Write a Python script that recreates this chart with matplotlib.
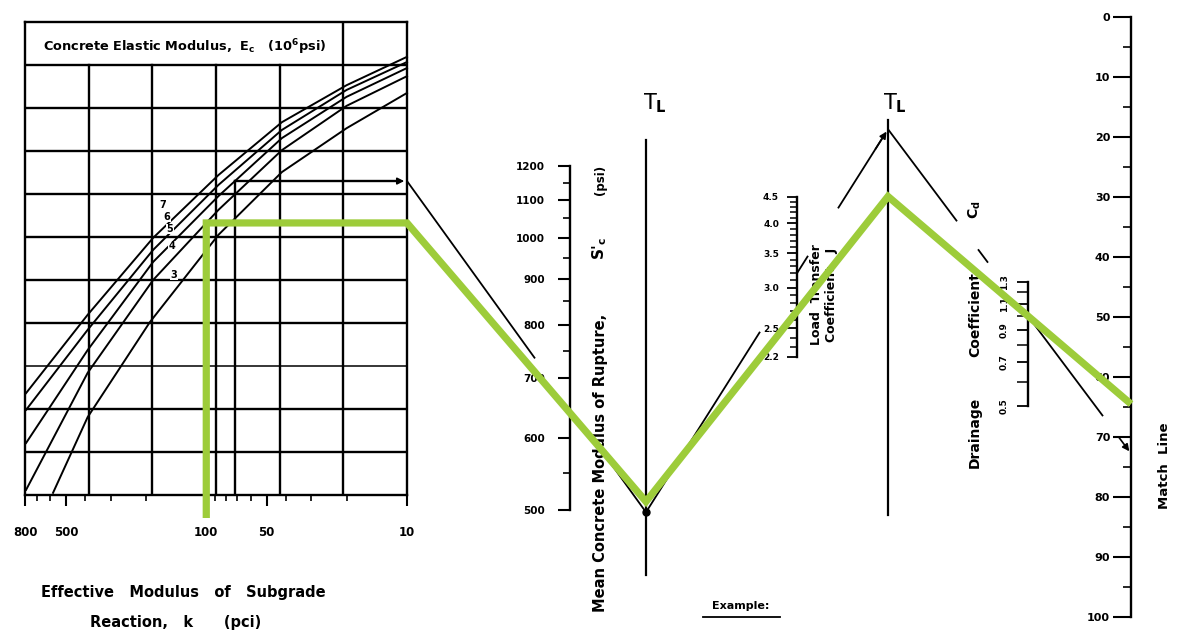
import numpy as np
import matplotlib
matplotlib.use("Agg")
import matplotlib.pyplot as plt
from matplotlib.ticker import FixedLocator, FixedFormatter, NullFormatter
from matplotlib.transforms import blended_transform_factory

plt.rcParams['font.family'] = ['DejaVu Sans']
plt.rcParams['font.weight'] = 'bold'
plt.rcParams['mathtext.fontset'] = 'dejavusans'
plt.rcParams['mathtext.default'] = 'bf'

# ---------------- data ----------------
k_major = [800, 500, 100, 50, 10]
k_major_labels = ["800", "500", "100", "50", "10"]
k_minor = [700, 600, 400, 300, 200, 90, 80, 70, 60, 40, 30, 20]

ec_labels = ["7", "6", "5", "4", "3"]
# curves of constant Ec (k in pci, height in grid-row units)
ec7_k = [790, 390, 184, 87, 42, 20, 10]
ec7_y = [2.37, 4.19, 5.98, 7.44, 8.67, 9.53, 10.19]
ec6_k = [790, 390, 184, 87, 42, 20, 10]
ec6_y = [1.98, 3.84, 5.70, 7.21, 8.49, 9.42, 10.07]
ec5_k = [790, 390, 184, 87, 42, 20, 10]
ec5_y = [1.21, 3.37, 5.42, 6.95, 8.30, 9.26, 9.93]
ec4_k = [790, 390, 184, 87, 42, 20, 10]
ec4_y = [0.12, 2.84, 5.00, 6.63, 8.02, 9.05, 9.74]
ec3_k = [580, 390, 191, 87, 42, 20, 10]
ec3_y = [0.05, 1.81, 4.02, 6.05, 7.51, 8.53, 9.35]

sc_major = [500, 600, 700, 800, 900, 1000, 1100, 1200]
sc_labels = ["500", "600", "700", "800", "900", "1000", "1100", "1200"]
sc_minor = [550, 650, 750, 850, 950, 1050, 1150]

j_major = [2.2, 2.5, 3.0, 3.5, 4.0, 4.5]
j_labels = ["2.2", "2.5", "3.0", "3.5", "4.0", "4.5"]
j_minor = [2.3, 2.4, 2.6, 2.7, 2.8, 2.9, 3.1, 3.2, 3.3, 3.4, 3.6, 3.7, 3.8,
           3.9, 4.1, 4.2, 4.3, 4.4]

cd_major = [0.5, 0.7, 0.9, 1.1, 1.3]
cd_labels = ["0.5", "0.7", "0.9", "1.1", "1.3"]
cd_minor = [0.6, 0.8, 1.0, 1.2]

match_major = [0, 10, 20, 30, 40, 50, 60, 70, 80, 90, 100]
match_labels = ["0", "10", "20", "30", "40", "50", "60", "70", "80", "90", "100"]
match_minor = [5, 15, 25, 35, 45, 55, 65, 75, 85, 95]

# worked examples: k, Ec, S'c, J, Cd
black_example = [72, 5, 650, 3.2, 1.0]
green_example = [100, 4, 640, 2.7, 1.0]

# ---------------- layout ----------------
W, H = 1177, 630
fig = plt.figure(figsize=(W / 100, H / 100), dpi=100)
fig.patch.set_facecolor("white")


def px_axes(x0, y0, x1, y1):
    return fig.add_axes([x0 / W, 1 - y1 / H, (x1 - x0) / W, (y1 - y0) / H])


ax0 = fig.add_axes([0, 0, 1, 1])
ax0.set_xlim(0, W)
ax0.set_ylim(H, 0)
ax0.axis("off")
ax0.set_zorder(5)
ax0.patch.set_visible(False)

LW = 1.7
# ---- left panel ----
axk = px_axes(25, 22, 407, 495)
axk.set_xscale("log")
axk.set_xlim(800, 10)
axk.set_ylim(0, 11)
axk.patch.set_visible(False)
for s in axk.spines.values():
    s.set_linewidth(LW)
axk.yaxis.set_visible(False)
axk.xaxis.set_major_locator(FixedLocator(k_major))
axk.xaxis.set_major_formatter(FixedFormatter(k_major_labels))
axk.xaxis.set_minor_locator(FixedLocator(k_minor))
axk.xaxis.set_minor_formatter(NullFormatter())
axk.tick_params(axis="x", which="major", direction="out", length=8, width=1.5,
                pad=14, labelsize=8.5)
axk.tick_params(axis="x", which="minor", direction="out", length=4, width=1.2)

tr = blended_transform_factory(axk.transAxes, axk.transData)
for i in range(1, 6):
    top = 11 if i == 5 else 10
    axk.plot([i / 6, i / 6], [0, top], color="black", lw=LW, transform=tr)
for j in range(1, 11):
    axk.plot([0, 1], [j, j], color="black", lw=LW if j != 3 else 1.1,
             transform=tr)

curves = [(ec7_k, ec7_y), (ec6_k, ec6_y), (ec5_k, ec5_y), (ec4_k, ec4_y),
          (ec3_k, ec3_y)]
for ck, cy in curves:
    axk.plot(ck, cy, color="black", lw=1.4, clip_on=False)

label_pos = [(163, 205), (167, 217), (170, 229), (172, 246), (174, 275)]
for lab, (lx, ly) in zip(ec_labels, label_pos):
    ax0.text(lx, ly, lab, fontsize=7, ha="center", va="center",
             bbox=dict(facecolor="white", edgecolor="none", pad=0.2))

ax0.text(43, 47, r"Concrete Elastic Modulus,  E$_c$   (10$^6$psi)",
         fontsize=9.3, ha="left", va="center")
ax0.text(183, 593, "Effective   Modulus   of   Subgrade", fontsize=10.5,
         ha="center", va="center")
ax0.text(176, 622, "Reaction,   k      (pci)", fontsize=10.5, ha="center",
         va="center")


def curve_level(ck, cy, k):
    return np.interp(np.log10(k), np.log10(ck[::-1]), cy[::-1])


ec_map = {7: curves[0], 6: curves[1], 5: curves[2], 4: curves[3], 3: curves[4]}


# ---- scale axes ----
def scale_axes(x, y0, y1):
    a = px_axes(x, y0, x + 1, y1)
    a.patch.set_visible(False)
    for name in ("right", "top", "bottom"):
        a.spines[name].set_visible(False)
    a.spines["left"].set_linewidth(LW)
    a.xaxis.set_visible(False)
    a.set_xlim(0, 1)
    return a


ax_s = scale_axes(570, 166, 510)
ax_s.set_yscale("log")
ax_s.set_ylim(500, 1200)
ax_s.yaxis.set_major_locator(FixedLocator(sc_major))
ax_s.yaxis.set_major_formatter(FixedFormatter(sc_labels))
ax_s.yaxis.set_minor_locator(FixedLocator(sc_minor))
ax_s.yaxis.set_minor_formatter(NullFormatter())
ax_s.tick_params(axis="y", which="major", length=9, width=1.5, pad=9,
                 labelsize=7.5)
ax_s.tick_params(axis="y", which="minor", length=5, width=1.2)

ax_j = scale_axes(797, 197, 357)
ax_j.set_yscale("log")
ax_j.set_ylim(2.2, 4.5)
ax_j.yaxis.set_major_locator(FixedLocator(j_major))
ax_j.yaxis.set_major_formatter(FixedFormatter(j_labels))
ax_j.yaxis.set_minor_locator(FixedLocator(j_minor))
ax_j.yaxis.set_minor_formatter(NullFormatter())
ax_j.tick_params(axis="y", which="major", length=7, width=1.3, pad=6,
                 labelsize=6.5)
ax_j.tick_params(axis="y", which="minor", length=5, width=1.1)

ax_c = scale_axes(1028, 282, 406)
ax_c.set_yscale("log")
ax_c.set_ylim(0.5, 1.3)
ax_c.yaxis.set_major_locator(FixedLocator(cd_major))
ax_c.yaxis.set_major_formatter(FixedFormatter(cd_labels))
ax_c.yaxis.set_minor_locator(FixedLocator(cd_minor))
ax_c.yaxis.set_minor_formatter(NullFormatter())
ax_c.tick_params(axis="y", which="major", length=8, width=1.3, pad=6,
                 labelsize=6.5, labelrotation=90)
ax_c.tick_params(axis="y", which="minor", length=8, width=1.1)
for t in ax_c.get_yticklabels():
    t.set_va("center")

ax_m = scale_axes(1131, 17, 617)
ax_m.set_ylim(100, 0)
ax_m.yaxis.set_major_locator(FixedLocator(match_major))
ax_m.yaxis.set_major_formatter(FixedFormatter(match_labels))
ax_m.yaxis.set_minor_locator(FixedLocator(match_minor))
ax_m.yaxis.set_minor_formatter(NullFormatter())
ax_m.tick_params(axis="y", which="major", length=13, width=1.5, pad=2,
                 labelsize=8)
ax_m.tick_params(axis="y", which="minor", length=6, width=1.2)

# ---- turning lines ----
TL1_X, TL2_X = 646, 888
ax0.plot([TL1_X, TL1_X], [140, 575], color="black", lw=1.6)
ax0.plot([TL2_X, TL2_X], [120, 515], color="black", lw=1.6)
ax0.text(655, 103, r"T$_L$", fontsize=15, ha="center", va="center",
         fontweight="normal")
ax0.text(895, 103, r"T$_L$", fontsize=15, ha="center", va="center",
         fontweight="normal")

# ---- scale titles ----
ax0.text(600, 463, "Mean Concrete Modulus of Rupture,", rotation=90,
         fontsize=10.5, ha="center", va="center")
ax0.text(600, 248, r"S$'_c$", rotation=90, fontsize=11, ha="center",
         va="center")
ax0.text(600, 180, "(psi)", rotation=90, fontsize=8.5, ha="center",
         va="center")
ax0.text(817, 295, "Load  Transfer", rotation=90, fontsize=9, ha="center",
         va="center")
ax0.text(832, 295, "Coefficient,  J", rotation=90, fontsize=9, ha="center",
         va="center")
ax0.text(975, 432, "Drainage", rotation=90, fontsize=10, ha="center",
         va="center")
ax0.text(975, 312, "Coefficient,", rotation=90, fontsize=10, ha="center",
         va="center")
ax0.text(975, 210, r"C$_d$", rotation=90, fontsize=10, ha="center",
         va="center")
ax0.text(1165, 466, "Match  Line", rotation=90, fontsize=9.5, ha="center",
         va="center")
ax0.text(741, 606, "Example:", fontsize=8, ha="center", va="center")
ax0.plot([703, 780], [617, 617], color="black", lw=1.3)


# ---- example paths ----
def to_px(ax, x, y):
    return ax0.transData.inverted().transform(ax.transData.transform((x, y)))


def extend(p, q, x):
    t = (x - p[0]) / (q[0] - p[0])
    return p + t * (q - p)


MATCH_X = to_px(ax_m, 0, 0)[0]


def path_points(example):
    k, ec, sc, j, cd = example
    ck, cy = ec_map[ec]
    lvl = curve_level(ck, cy, k)
    A = to_px(axk, 10, lvl)
    S = to_px(ax_s, 0, sc)
    P1 = extend(A, S, TL1_X)
    Jp = to_px(ax_j, 0, j)
    P2 = extend(P1, Jp, TL2_X)
    Cp = to_px(ax_c, 0, cd)
    M = extend(P2, Cp, MATCH_X)
    return lvl, A, P1, P2, M


def piece(p, q, x_from, x_to, **kw):
    a = extend(p, q, x_from)
    b = extend(p, q, x_to)
    ax0.plot([a[0], b[0]], [a[1], b[1]], **kw)


# black example
bk = black_example
lvl_b, A, P1, P2, M = path_points(bk)
axk.plot([bk[0], bk[0]], [0, lvl_b], color="black", lw=LW)
axk.plot([bk[0], 11], [lvl_b, lvl_b], color="black", lw=LW)
axk.annotate("", xy=(10, lvl_b), xytext=(13, lvl_b),
             arrowprops=dict(arrowstyle="-|>", color="black", lw=1.2,
                             mutation_scale=10))
kw = dict(color="black", lw=1.3, solid_capstyle="butt")
piece(A, P1, A[0], 535, **kw)
piece(A, P1, 610, P1[0], **kw)
piece(P1, P2, P1[0], 760, **kw)
piece(P1, P2, 797, 808, **kw)
piece(P1, P2, 838, P2[0] - 6, **kw)
ax0.annotate("", xy=P2, xytext=extend(P1, P2, P2[0] - 14),
             arrowprops=dict(arrowstyle="-|>", color="black", lw=1.2,
                             mutation_scale=10))
piece(P2, M, P2[0], 957, **kw)
piece(P2, M, 978, 988, **kw)
piece(P2, M, 1025, 1103, **kw)
ax0.annotate("", xy=M, xytext=extend(P2, M, M[0] - 14),
             arrowprops=dict(arrowstyle="-|>", color="black", lw=1.2,
                             mutation_scale=10))
ax0.plot([P1[0]], [P1[1]], "o", color="black", ms=5)

# green example
gk = green_example
lvl_g, GA, GP1, GP2, GM = path_points(gk)
g_bottom = to_px(axk, gk[0], 0)
g_corner = to_px(axk, gk[0], lvl_g)
gx = [g_corner[0], g_corner[0], GA[0], GP1[0], GP2[0], GM[0]]
gy = [g_bottom[1] + 23, g_corner[1], GA[1], GP1[1], GP2[1], GM[1]]
ax0.plot(gx, gy, color="#9dcc3a", lw=5.2, solid_joinstyle="miter",
         solid_capstyle="butt", zorder=10)

fig.savefig("out.png", dpi=100, facecolor="white")
